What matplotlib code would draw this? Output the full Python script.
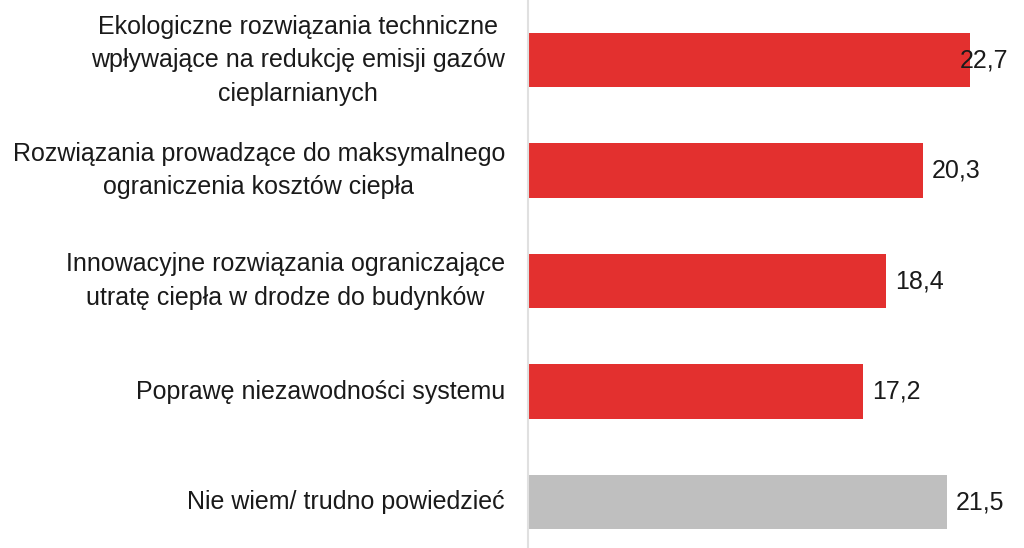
import matplotlib.pyplot as plt

plt.rcParams['font.family'] = ['Liberation Sans', 'DejaVu Sans']

labels = [
    'Ekologiczne rozwiązania techniczne\nwpływające na redukcję emisji gazów\ncieplarnianych',
    'Rozwiązania prowadzące do maksymalnego\nograniczenia kosztów ciepła',
    'Innowacyjne rozwiązania ograniczające\nutratę ciepła w drodze do budynków',
    'Poprawę niezawodności systemu',
    'Nie wiem/ trudno powiedzieć',
]
values = [22.7, 20.3, 18.4, 17.2, 21.5]
colors = ['#e3302f', '#e3302f', '#e3302f', '#e3302f', '#bfbfbf']

fig = plt.figure(figsize=(10.24, 5.48), dpi=100)
ax = fig.add_axes([528 / 1024, 0, 496 / 1024, 1])

px = 19.47  # pixels per unit
xmax = 496 / px
ypos = list(range(len(values)))
ax.barh(ypos, values, height=0.49, color=colors)
ax.set_xlim(0, xmax)
ax.set_ylim(4.416, -0.543)

ax.set_xticks([])
ax.set_yticks([])
for s in ['top', 'right', 'bottom']:
    ax.spines[s].set_visible(False)
ax.spines['left'].set_color('#e0e0e0')
ax.spines['left'].set_linewidth(1.5)

txt_color = '#1a1a1a'
fs = 18
label_right = (1008 - 528) / px
for y, v, lab in zip(ypos, values, labels):
    ax.text(-23 / px, y, lab, ha='right', va='center', multialignment='center',
            fontsize=fs, color=txt_color, linespacing=1.5)
    s = f'{v:.1f}'.replace('.', ',')
    if v + 9 / px + 49 / px > label_right:
        ax.text(label_right, y, s, ha='right', va='center', fontsize=fs,
                color=txt_color)
    else:
        ax.text(v + 9 / px, y, s, ha='left', va='center', fontsize=fs,
                color=txt_color)

fig.savefig('out.png', dpi=100)
